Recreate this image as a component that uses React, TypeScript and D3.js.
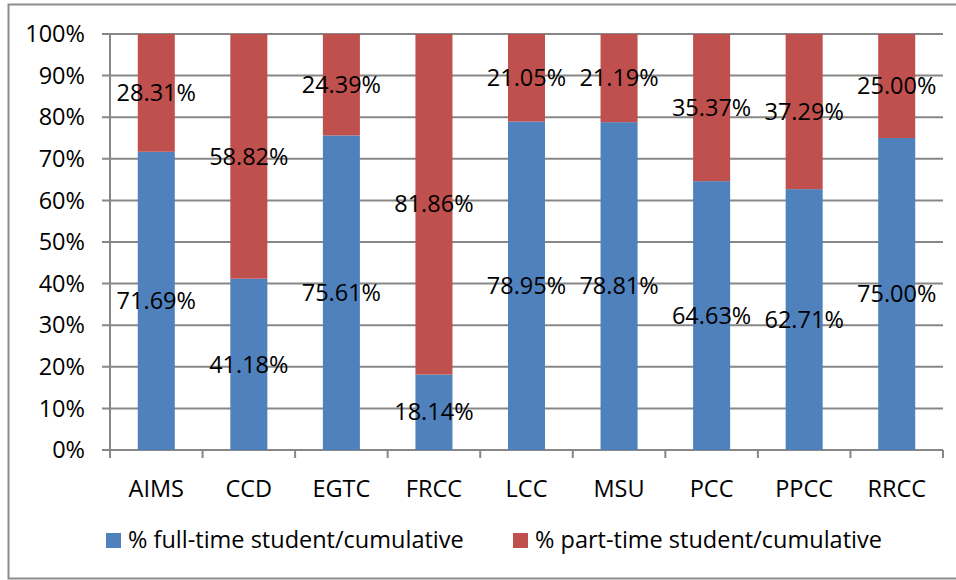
import React, { useEffect, useRef } from 'react'
import * as d3 from 'd3'

// colleges on the x axis
const colleges = ['AIMS', 'CCD', 'EGTC', 'FRCC', 'LCC', 'MSU', 'PCC', 'PPCC', 'RRCC']
// share of full-time students (%)
const fullTime = [71.69, 41.18, 75.61, 18.14, 78.95, 78.81, 64.63, 62.71, 75.0]
// share of part-time students (%)
const partTime = [28.31, 58.82, 24.39, 81.86, 21.05, 21.19, 35.37, 37.29, 25.0]
const seriesNames = ['% full-time student/cumulative', '% part-time student/cumulative']
const yTicks = [0, 10, 20, 30, 40, 50, 60, 70, 80, 90, 100]

const W = 956
const H = 580
const FONT = '"Open Sans", "Liberation Sans", sans-serif'
const FS = '23.5px'
const colors = ['#4F81BD', '#C0504D']

export default function App() {
  const ref = useRef<SVGSVGElement>(null)

  useEffect(() => {
    const svg = d3.select(ref.current)
    svg.selectAll('*').remove()

    const left = 110, right = 943, top = 34, bottom = 450

    // outer frame
    svg.append('rect')
      .attr('x', 8.5).attr('y', 4.5)
      .attr('width', W).attr('height', 574)
      .attr('fill', 'white')
      .attr('stroke', '#8c8c8c').attr('stroke-width', 2)

    const x = d3.scaleBand().domain(colleges).range([left, right]).paddingInner(0).paddingOuter(0)
    const y = d3.scaleLinear().domain([0, 100]).range([bottom, top])
    const barW = x.bandwidth() * 0.4

    // grid
    svg.append('g').selectAll('line').data(yTicks).join('line')
      .attr('x1', left - 8).attr('x2', right)
      .attr('y1', d => y(d)).attr('y2', d => y(d))
      .attr('stroke', '#878787').attr('stroke-width', 2)

    // y labels
    svg.append('g').selectAll('text').data(yTicks).join('text')
      .attr('x', 85).attr('y', d => y(d))
      .attr('dy', '0.35em')
      .attr('text-anchor', 'end')
      .style('font-family', FONT).style('font-size', FS)
      .attr('fill', '#000')
      .text(d => d + '%')

    // y axis line
    svg.append('line')
      .attr('x1', left).attr('x2', left).attr('y1', top).attr('y2', bottom)
      .attr('stroke', '#878787').attr('stroke-width', 2)

    // x tick marks
    const xt = colleges.map((c, i) => left + i * x.step()).concat([right])
    svg.append('g').selectAll('line').data(xt).join('line')
      .attr('x1', d => d).attr('x2', d => d)
      .attr('y1', bottom).attr('y2', bottom + 8)
      .attr('stroke', '#878787').attr('stroke-width', 2)

    const stack = colleges.map((c, i) => ({ c, f: fullTime[i], p: partTime[i] }))

    const g = svg.append('g')
    stack.forEach(d => {
      const cx = x(d.c)! + x.bandwidth() / 2
      g.append('rect')
        .attr('x', cx - barW / 2).attr('width', barW)
        .attr('y', y(d.f)).attr('height', y(0) - y(d.f))
        .attr('fill', colors[0])
      g.append('rect')
        .attr('x', cx - barW / 2).attr('width', barW)
        .attr('y', y(d.f + d.p)).attr('height', y(d.f) - y(d.f + d.p))
        .attr('fill', colors[1])
    })

    // data labels
    stack.forEach(d => {
      const cx = x(d.c)! + x.bandwidth() / 2
      g.append('text')
        .attr('x', cx).attr('y', y(d.f / 2)).attr('dy', '0.35em')
        .attr('text-anchor', 'middle')
        .style('font-family', FONT).style('font-size', FS)
        .text(d.f.toFixed(2) + '%')
      g.append('text')
        .attr('x', cx).attr('y', y(d.f + d.p / 2)).attr('dy', '0.35em')
        .attr('text-anchor', 'middle')
        .style('font-family', FONT).style('font-size', FS)
        .text(d.p.toFixed(2) + '%')
    })

    // category labels
    svg.append('g').selectAll('text').data(colleges).join('text')
      .attr('x', d => x(d)! + x.bandwidth() / 2).attr('y', 489)
      .attr('dy', '0.35em')
      .attr('text-anchor', 'middle')
      .style('font-family', FONT).style('font-size', FS)
      .text(d => d)

    // legend
    const legX = [106, 513]
    seriesNames.forEach((s, i) => {
      svg.append('rect')
        .attr('x', legX[i]).attr('y', 533).attr('width', 15).attr('height', 15)
        .attr('fill', colors[i])
      svg.append('text')
        .attr('x', legX[i] + 22).attr('y', 540).attr('dy', '0.35em')
        .style('font-family', FONT).style('font-size', FS)
        .text(s)
    })
  }, [])

  return (
    <svg ref={ref} width={W} height={H} viewBox={`0 0 ${W} ${H}`}
      style={{ position: 'absolute', left: 0, top: 0, display: 'block' }} />
  )
}
